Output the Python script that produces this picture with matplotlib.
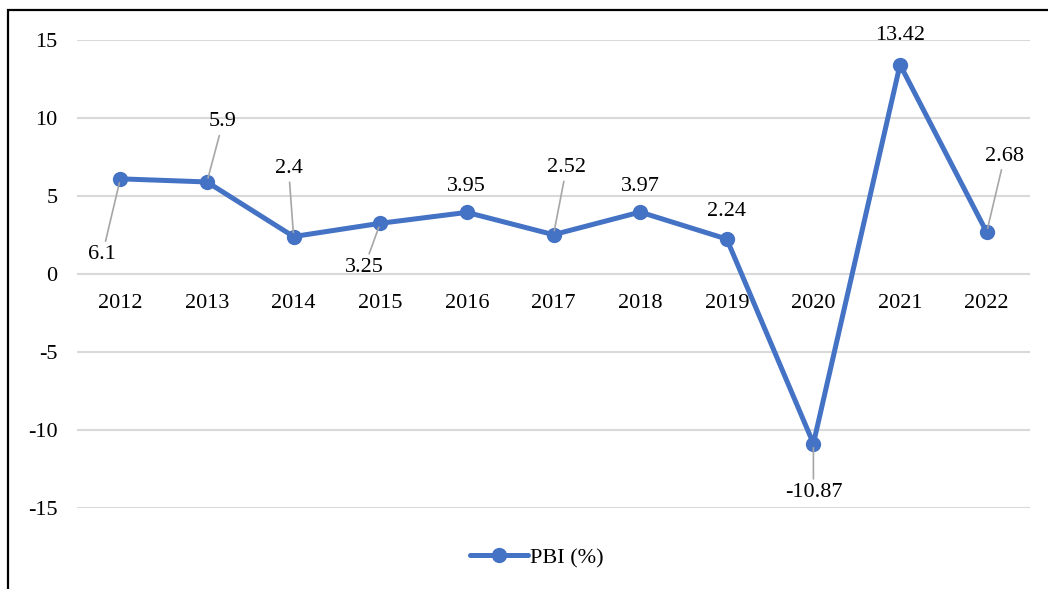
import matplotlib
matplotlib.use("Agg")
import matplotlib.pyplot as plt
from matplotlib.patches import Rectangle

plt.rcParams['font.family'] = ['Liberation Serif', 'DejaVu Serif']

# datos
years = ['2012', '2013', '2014', '2015', '2016', '2017', '2018', '2019', '2020', '2021', '2022']
pbi = [6.1, 5.9, 2.4, 3.25, 3.95, 2.52, 3.97, 2.24, -10.87, 13.42, 2.68]
labels = ['6.1', '5.9', '2.4', '3.25', '3.95', '2.52', '3.97', '2.24', '-10.87', '13.42', '2.68']
yticks = [-15, -10, -5, 0, 5, 10, 15]

# posicion de las etiquetas (pixeles) y si llevan linea guia
offsets = [(-18, -76), (16, 60), (-5, 68), (-16, -44), (0, 26), (13, 67),
           (0, 26), (0, 28), (0, -49), (0, 29), (18, 76)]
leader = [True, True, True, True, False, True, False, False, True, False, True]

blue = '#4472C4'
fs = 16

fig = plt.figure(figsize=(10.48, 5.89), dpi=100)
ax = fig.add_axes([77/1048, 81/589, 953/1048, 468/589])

x = list(range(len(years)))
ax.plot(x, pbi, color=blue, lw=3.6, marker='o', markersize=10,
        solid_capstyle='round', label='PBI (%)', zorder=3)

ax.set_xlim(-0.5, len(years) - 0.5)
ax.set_ylim(-15, 15)
ax.set_yticks(yticks)
ax.set_yticklabels([str(t) for t in yticks], fontsize=fs)
ax.tick_params(axis='y', length=0, pad=14)
ax.set_xticks([])
ax.grid(axis='y', color='#d9d9d9', lw=1.5, zorder=0)
for s in ax.spines.values():
    s.set_visible(False)

# etiquetas del eje x junto a la linea del cero
for xi, yr in zip(x, years):
    ax.annotate(yr, (xi, 0), xytext=(0, -29), textcoords='offset pixels',
                ha='center', va='center', fontsize=fs)

# etiquetas de datos
for xi, v, lab, off, ld in zip(x, pbi, labels, offsets, leader):
    props = dict(arrowstyle='-', color='#a6a6a6', lw=1.2, shrinkA=1, shrinkB=3) if ld else None
    ax.annotate(lab, (xi, v), xytext=off, textcoords='offset pixels',
                ha='center', va='center', fontsize=fs, arrowprops=props, zorder=4)

leg = fig.legend(loc='center', bbox_to_anchor=(537/1048, 1 - 558/589), frameon=False,
                 fontsize=fs, handlelength=2.6, handletextpad=0.1)

# marco exterior
fig.patches.append(Rectangle((8/1048, -0.1), 1.2, 1.1 - 10/589, transform=fig.transFigure,
                             fill=False, ec='black', lw=1.6, clip_on=False))

fig.savefig('out.png', dpi=100)
